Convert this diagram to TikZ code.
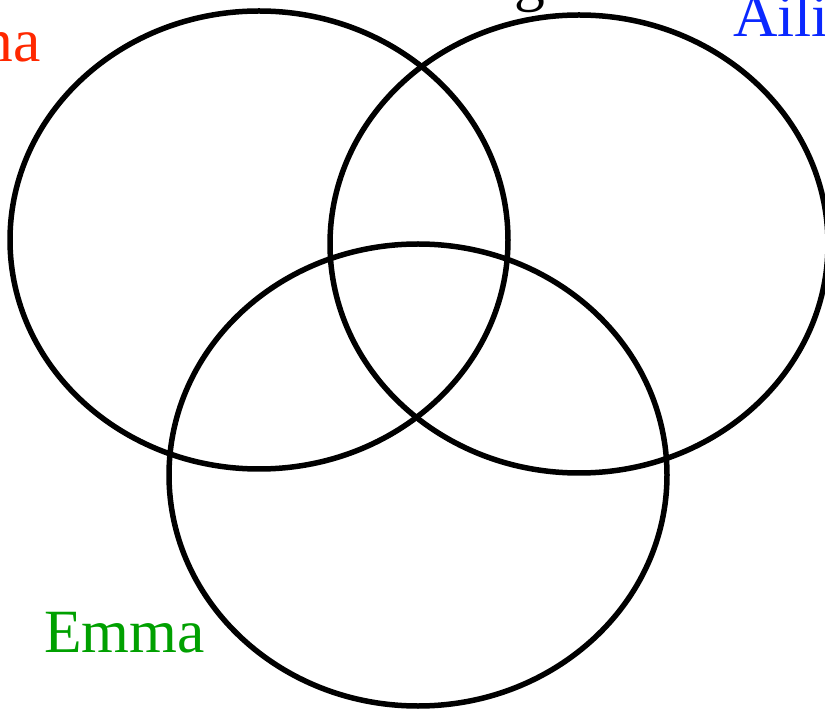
\documentclass[tikz,border=0pt]{standalone}
\usepackage{fontspec}
\setmainfont{Liberation Serif}
\usetikzlibrary{positioning}
\definecolor{annared}{RGB}{255,40,0}
\definecolor{ailinblue}{RGB}{10,40,255}
\definecolor{emmagreen}{RGB}{0,160,0}

\begin{document}
\begin{tikzpicture}[
    x=0.02cm, y=0.02cm,
    every node/.style={font=\fontsize{35}{40}\selectfont, inner sep=0pt},
    set/.style={draw=black, line width=0.11cm},
    person/.style={anchor=base west}
  ]
\useasboundingbox (0,0) rectangle (825,-709);
\clip (0,0) rectangle (825,-709);

% the three sets
\draw[set] (259,-240) ellipse [x radius=249, y radius=229];
\draw[set] (579,-244) ellipse [x radius=249, y radius=229];
\draw[set] (418,-475) ellipse [x radius=249, y radius=231];

% names
\node[person, anchor=base east, text=annared] (anna)  at (41,-62)  {Anna};
\node[person, text=black, anchor=base east]   (top)   at (546,0)   {Kang};
\node[person, text=ailinblue]                 (ailin) at (733,-37) {Ailin};
\node[person, text=emmagreen]                 (emma)  at (44,-652) {Emma};
\end{tikzpicture}
\end{document}
